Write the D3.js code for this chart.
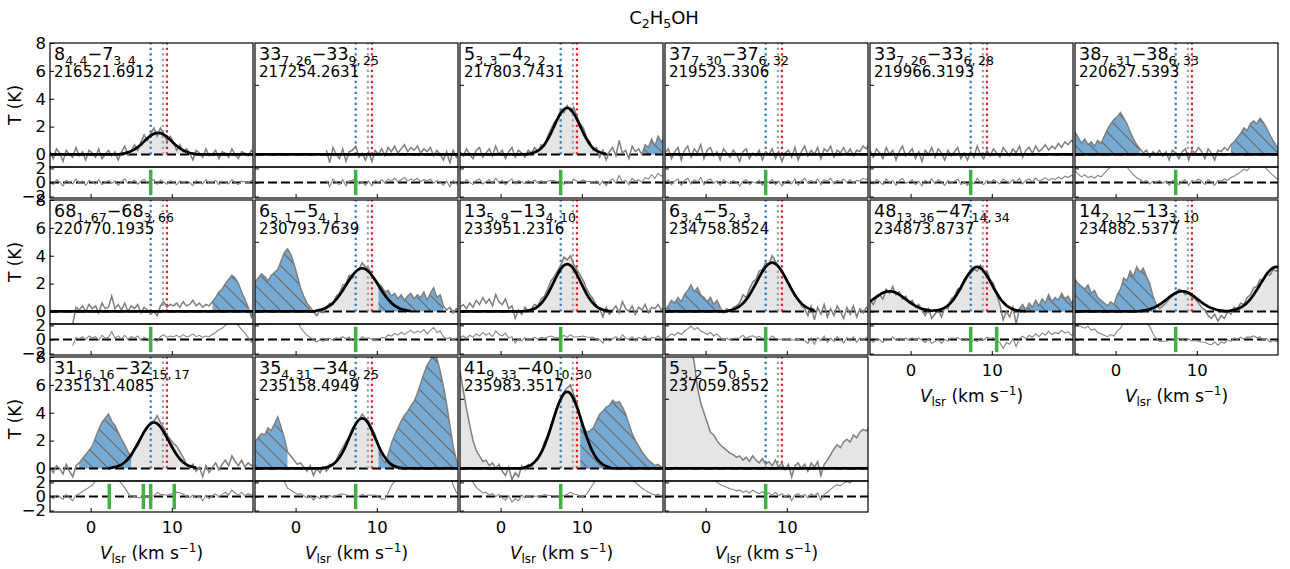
<!DOCTYPE html>
<meta charset="utf-8">
<style>
body { margin: 0; background: #fff; }
svg { font-family: "DejaVu Sans", sans-serif; }
</style>
<script src="https://cdn.jsdelivr.net/npm/d3@7"></script>
<body>
<svg id="chart" width="1290" height="569"></svg>
<script>

// channel axis of all spectra (km/s)
const vStart = -5, vStep = 0.4, nChan = 64;

// upper level, its subscript, lower level, its subscript
const transitions = [
  ["8","4,\u20094","7","3,\u20094"], ["33","7,\u200926","33","9,\u200925"], ["5","3,\u20093","4","2,\u20092"],
  ["37","7,\u200930","37","6,\u200932"], ["33","7,\u200926","33","6,\u200928"], ["38","7,\u200931","38","6,\u200933"],
  ["68","1,\u200967","68","3,\u200966"], ["6","5,\u20091","5","4,\u20091"], ["13","5,\u20099","13","4,\u200910"],
  ["6","3,\u20094","5","2,\u20093"], ["48","13,\u200936","47","14,\u200934"], ["14","2,\u200912","13","3,\u200910"],
  ["31","16,\u200916","32","15,\u200917"], ["35","4,\u200931","34","9,\u200925"], ["41","9,\u200933","40","10,\u200930"],
  ["5","3,\u20092","5","0,\u20095"]
];
const freqs = ["216521.6912","217254.2631","217803.7431","219523.3306","219966.3193","220627.5393",
  "220770.1935","230793.7639","233951.2316","234758.8524","234873.8737","234882.5377",
  "235131.4085","235158.4949","235983.3517","237059.8552"];

// first channel velocity of each spectrum
const specStart = [-5, 3.8, -5, -5, -5, -5, -2.2, -5, -5, -5, -5, -5, -5, -5, -5, -5];

// brightness temperature T (K), one value per channel
const spectra = [
  [0.2,-0.3,0.4,0.1,-0.5,0.3,0.0,-0.2, 0.5,-0.1,0.2,-0.4,0.3,0.1,-0.2,0.4, -0.3,0.0,0.3,-0.1,0.2,-0.4,0.15,0.6,
   -0.05,0.25,0.7,0.3,0.9,1.4,1.0,1.5, 1.9,1.3,1.9,1.5,1.0,1.3,0.9,0.3, 0.7,0.2,0.4,0.1,-0.4,0.3,0.1,-0.2,
   0.4,-0.1,0.0,0.3,-0.3,0.2,0.1,-0.2, 0.4,0.0,-0.3,0.2,0.1,-0.1,0.3,0.0],
  [0.3,-0.6,0.5,0.0,-0.3,0.4,-0.5,0.2, 0.3,0.6,-0.2,0.1,-0.4,0.2,-0.5,0.3, 0.0,0.4,-0.1,0.5,0.2,0.6,0.1,0.4,
   0.7,0.2,0.5,0.3,0.6,0.1,0.4,0.2, 0.5,-0.1,0.3,0.0,-0.4,0.2,-0.6,0.3, -0.2,0.4],
  [0.2,-0.1,0.4,0.0,-0.3,0.3,0.5,-0.2, 0.1,0.4,-0.1,0.6,0.0,0.3,-0.3,0.2, 0.5,-0.2,0.3,0.1,-0.2,0.3,0.1,0.5,
   0.2,0.7,0.6,1.3,1.8,2.3,2.6,3.2, 3.0,3.5,3.1,3.4,2.7,2.2,1.9,1.2, 0.9,0.3,0.5,-0.2,0.3,-0.4,0.2,0.5,
   -0.1,1.0,0.1,0.3,-0.3,0.6,0.2,0.4, 0.0,0.7,0.5,1.1,0.6,1.3,0.9,1.2],
  [0.1,0.4,-0.3,0.2,0.5,-0.4,0.3,0.6, -0.2,0.4,0.1,0.7,-0.3,0.3,0.5,-0.1, 0.2,-0.4,0.4,0.1,-0.2,0.3,0.0,-0.5,
   0.2,0.4,-0.3,0.1,-0.1,0.3,-0.4,0.2, 0.0,0.4,-0.3,0.2,-0.5,0.1,0.3,-0.2, 0.5,-0.4,0.2,0.6,-0.1,0.3,0.0,0.5,
   -0.3,0.4,0.2,0.6,-0.2,0.3,0.1,0.5, 0.0,0.4,-0.1,0.3,0.2,0.6,0.4,0.8],
  [0.3,-0.2,0.4,0.1,-0.3,0.5,0.0,0.3, -0.4,0.2,0.6,-0.1,0.1,0.4,-0.3,0.2, -0.5,0.3,0.0,0.5,-0.2,0.4,0.1,-0.4,
   0.3,-0.1,0.2,0.5,-0.3,0.1,-0.4,0.2, -0.2,0.6,0.0,-0.3,0.3,-0.1,0.4,0.1, -0.2,0.5,0.2,-0.1,0.4,0.1,0.6,-0.2,
   0.3,0.5,0.1,0.6,0.2,0.4,0.7,0.3, 0.6,0.4,0.8,0.5,0.9,0.7,1.0,0.8],
  [1.6,1.2,0.8,1.1,0.7,0.9,0.6,1.0, 0.8,1.3,1.8,2.2,2.5,2.7,3.0,2.6, 2.2,1.6,1.1,0.7,0.4,0.1,0.3,-0.2,
   0.2,0.0,0.3,-0.1,0.2,-0.4,0.3,0.1, -0.3,0.2,0.4,-0.4,0.3,0.1,0.5,0.2, -0.3,0.4,0.1,-0.4,0.3,0.2,0.5,0.3,
   0.7,0.9,1.2,1.5,1.9,1.7,2.2,2.4, 2.2,2.6,2.3,1.9,1.4,1.0,0.6,0.3],
  [-0.9,0.3,0.1,0.4,0.0,0.5,0.2,0.4, -0.1,0.6,0.2,0.3,1.1,0.2,0.5,0.1, 0.6,0.0,0.4,0.2,0.5,-0.1,0.3,0.1,
   -0.2,0.0,-0.3,0.4,0.7,0.3,0.5,0.4, 0.6,0.3,0.7,0.4,0.5,0.8,0.4,0.6, 0.3,0.5,0.4,0.7,1.0,1.4,1.6,2.0,
   2.3,2.6,2.4,2.0,1.4,0.9,0.3,-0.4, 0.2],
  [2.1,2.4,2.7,2.5,2.2,2.6,2.8,3.0, 3.6,4.2,4.5,4.1,3.4,2.6,1.7,1.1, 0.6,0.3,0.0,-0.3,0.1,-0.1,0.3,0.6,
   0.5,1.1,1.3,1.9,2.0,2.6,2.4,2.9, 3.0,3.5,3.2,3.1,2.6,2.3,2.0,1.8, 1.4,1.5,1.1,1.3,0.9,1.2,0.8,1.1,
   1.3,0.9,1.2,1.0,1.4,0.8,1.3,1.7, 1.0,1.2,0.4,0.1,0.3,-0.1,0.2,0.0],
  [0.3,0.5,0.2,0.6,0.3,0.8,0.5,1.0, 0.6,0.9,0.4,1.2,0.7,0.5,0.9,0.2, 0.4,-0.5,0.1,-0.2,0.3,0.0,0.2,0.5,
   0.4,0.9,1.1,1.6,2.2,2.5,2.9,3.3, 3.9,3.7,4.0,3.4,3.0,2.6,2.2,1.6, 1.2,0.9,0.4,0.2,-0.4,0.3,-0.2,0.1,
   0.4,-0.1,0.7,0.2,0.0,0.4,-0.2,0.3, 0.1,0.5,-0.1,0.3,0.2,0.5,0.1,0.3],
  [0.1,0.4,0.8,0.6,1.0,0.7,1.2,1.5, 1.9,1.4,1.7,1.2,1.0,0.7,1.0,0.5, 0.8,0.3,-0.1,0.2,0.0,0.3,0.4,0.6,
   1.2,1.0,1.6,2.1,2.3,2.9,3.0,3.5, 3.4,4.0,3.6,3.2,2.9,2.4,2.1,1.5, 1.1,0.9,0.4,0.2,-0.3,0.4,-0.6,0.3,
   -0.2,0.5,-0.4,0.2,-0.3,0.4,0.0,-0.5, 0.3,-0.2,0.4,-0.4,0.2,-0.1,0.3,0.0],
  [0.8,0.5,1.0,1.2,0.9,1.6,1.3,1.8, 1.2,1.4,0.9,1.1,0.6,0.8,0.3,0.5, 0.1,-0.3,0.2,-0.5,-0.2,0.1,-0.4,0.3,
   0.2,0.9,1.1,1.6,1.7,2.3,2.5,2.7, 3.0,2.9,3.3,2.8,2.9,2.3,2.0,1.2, 0.5,-0.6,0.0,-0.4,0.3,-0.9,0.2,0.5,
   0.1,0.6,0.3,0.8,0.4,0.9,0.6,1.2, 0.7,1.0,0.8,1.3,0.9,1.1,0.6,1.0],
  [2.3,2.0,1.8,1.6,1.9,1.3,1.5,1.0, 0.8,0.6,0.4,0.7,0.5,1.2,1.6,2.4, 2.2,2.9,2.5,3.2,2.8,3.1,2.5,2.0,
   1.1,0.5,0.2,0.4,0.6,0.9,1.1,1.3, 1.6,1.5,1.2,1.4,1.0,0.9,0.6,0.3, 0.1,-0.3,-0.5,-0.2,-0.7,-0.3,-0.5,0.0,
   -0.2,0.3,0.2,0.6,0.5,1.0,1.2,1.7, 1.8,2.3,2.2,2.8,2.6,3.0,2.9,3.1],
  [0.1,-0.3,0.2,0.0,-0.4,0.3,-0.2,-0.6, 0.2,0.4,0.7,1.0,1.3,1.6,2.2,2.8, 3.3,3.6,3.9,3.4,3.1,2.6,2.1,1.7,
   1.2,0.8,1.4,1.6,2.1,2.6,3.0,3.3, 3.4,3.8,3.3,2.9,2.4,2.1,1.8,1.6, 1.2,0.8,0.3,0.0,0.3,-0.2,0.1,-0.6,
   0.2,-0.3,0.1,0.4,-0.1,0.3,0.6,0.2, 0.9,0.5,0.2,0.6,0.1,0.4,0.2,0.3],
  [1.9,2.2,2.5,2.4,2.9,2.7,3.2,3.7, 3.0,2.2,1.2,0.9,0.6,0.3,0.4,0.1, -0.2,0.2,-0.5,0.0,-0.3,0.1,-0.2,0.3,
   0.2,0.6,1.1,1.5,1.9,2.3,2.9,3.2, 3.5,3.9,3.6,3.4,2.9,2.4,1.6,0.8, 0.4,1.0,1.8,2.4,2.9,3.4,3.8,4.1,
   4.5,4.8,5.4,6.1,6.8,7.4,7.8,8.2, 7.9,7.0,5.9,4.6,3.1,1.6,0.6,0.2],
  [7.0,5.6,4.3,3.1,2.0,1.3,0.9,0.5, 0.6,0.2,0.4,0.0,0.3,-0.2,-0.5,0.1, -0.8,-0.3,-0.6,0.2,-0.1,0.3,0.1,0.5,
   0.8,1.2,1.9,2.4,3.1,3.8,4.5,5.0, 5.5,5.8,6.0,5.3,4.7,3.6,3.0,2.6, 2.7,2.9,3.4,3.9,4.1,4.4,4.5,4.9,
   4.7,4.8,4.4,3.9,3.2,2.5,2.0,1.6, 1.2,0.9,0.6,0.4,0.2,0.3,0.1,-0.2],
  [12.0,12.5,12.0,11.5,11.0,10.5,10.0,9.4, 8.7,7.6,5.8,4.7,4.0,3.3,2.6,2.4, 2.0,1.7,1.5,1.3,1.1,1.0,0.8,0.9,
   0.6,0.8,0.5,0.9,0.6,0.4,0.7,0.3, 0.5,0.2,0.6,0.1,0.4,-0.1,0.3,-0.6, 0.2,0.4,0.0,0.3,-0.2,0.4,0.1,0.5,
   -0.5,0.3,0.6,1.0,1.4,1.7,1.5,1.9, 2.1,1.9,2.4,2.2,2.6,2.8,2.7,3.0]
];

// fitted model (K); channels outside the list are 0
const modelStart = [3.8, -5, 3.4, -5, -5, -5, -5, 2.6, 3.0, 3.0, -5, 3.0, 2.2, 3.4, 3.0, -5];
const models = [
  [0.05,0.08,0.15,0.24,0.36,0.53,0.72,0.94,1.16,1.35,1.48,1.55,1.53,1.42,1.26,1.05,0.83,0.62,0.44,0.29,0.19,0.11,0.06,0.03],
  [],
  [0.04,0.08,0.15,0.27,0.45,0.72,1.09,1.53,2.03,2.53,2.95,3.25,3.35,3.25,2.95,2.53,2.03,1.53,1.09,0.72,0.45,0.27,0.15,0.08,0.04],
  [], [], [], [],
  [0.06,0.11,0.17,0.28,0.42,0.61,0.86,1.16,1.51,1.88,2.25,2.59,2.86,3.04,3.1,3.04,2.86,2.59,2.25,1.88,1.51,1.16,0.86,0.61,0.42,0.28,0.17,0.11,0.06],
  [0.03,0.06,0.12,0.21,0.36,0.58,0.88,1.25,1.70,2.18,2.65,3.04,3.31,3.4,3.31,3.04,2.65,2.18,1.70,1.25,0.88,0.58,0.36,0.21,0.12,0.06,0.03],
  [0.08,0.14,0.24,0.38,0.58,0.85,1.18,1.58,2.01,2.46,2.87,3.20,3.42,3.5,3.42,3.20,2.87,2.46,2.01,1.58,1.18,0.85,0.58,0.38,0.24,0.14,0.08],
  [0.71,0.88,1.05,1.21,1.34,1.42,1.45,1.42,1.34,1.21,1.05,0.88,0.71,0.54,0.40,0.29,0.20,0.13,0.08,0.05,
   0.08,0.09,0.16,0.27,0.43,0.66,0.95,1.32,1.72,2.16,2.56,2.90,3.12,3.2,3.12,2.90,2.56,2.16,1.72,1.32,0.95,0.66,0.43,0.27,0.16,0.09,0.05,0.02],
  [0.03,0.06,0.10,0.16,0.24,0.35,0.49,0.65,0.83,1.02,1.19,1.33,1.42,1.45,1.42,1.33,1.19,1.02,0.83,0.65,0.49,0.35,0.24,0.16,0.10,0.06,0.03,
   0.02,0.06,0.11,0.18,0.28,0.43,0.63,0.89,1.20,1.56,1.94,2.32,2.67,2.95,3.14,3.2,3.14],
  [0.02,0.05,0.10,0.17,0.28,0.45,0.68,0.98,1.36,1.78,2.22,2.64,2.99,3.22,3.3,3.22,2.99,2.64,2.22,1.78,1.36,0.98,0.68,0.45,0.28,0.17,0.10,0.05],
  [0.04,0.08,0.16,0.29,0.49,0.78,1.17,1.65,2.19,2.72,3.18,3.49,3.6,3.49,3.18,2.72,2.19,1.65,1.17,0.78,0.49,0.29,0.16,0.08,0.04],
  [0.08,0.16,0.28,0.47,0.74,1.13,1.64,2.26,2.96,3.71,4.41,4.98,5.37,5.5,5.37,4.98,4.41,3.71,2.96,2.26,1.64,1.13,0.74,0.47,0.28,0.16,0.08],
  []
];
// velocity span over which the model curve is drawn
const modelSpan = [[-5,20.2],[-5,20.2],[-5,13.0],[-5,20.2],[-5,20.2],[-5,20.2],[-5,20.2],[-5,14.2],
  [-5,13.8],[-5,13.4],[-5,14.2],[-5,20.2],[2.2,13.0],[-5,20.2],[-5,20.2],[-5,20.2]];

// shaded velocity ranges: g = this line / other emission, b = blended (hatched)
const fills = [
  [[4.2,12.2,"g"]], [], [[3.8,12.6,"g"],[17.4,20.2,"b"]], [], [],
  [[-5,3.0,"b"],[14.2,20.2,"b"]],
  [[15.0,19.8,"b"]],
  [[-5,1.8,"b"],[3.4,10.2,"g"],[10.2,18.2,"b"]],
  [[4.2,12.6,"g"]],
  [[-5,1.8,"b"],[3.4,13.0,"g"]],
  [[-5,2.2,"g"],[4.2,11.0,"g"],[13.4,20.2,"b"]],
  [[-5,5.0,"b"],[5.4,11.0,"g"],[14.6,20.2,"g"]],
  [[-1.4,5.0,"b"],[5.0,12.2,"g"]],
  [[-5,-1.0,"b"],[4.2,10.2,"g"],[10.2,20.2,"b"]],
  [[-5,-1.0,"g"],[3.8,9.8,"g"],[9.8,20.2,"b"]],
  [[-5,20.2,"g"]]
];

// green markers in the residual boxes (km/s)
const greenMarks = [[7.4],[7.4],[7.4],[7.4],[7.4],[7.4],[7.4],[7.4],[7.4],[7.4],[7.4,10.6],[7.4],
  [2.3,6.5,7.4,10.3],[7.4],[7.4],[7.4]];

const refVel = [7.4, 8.9, 9.4];
const refColor = ["#2b7bba", "#a0a0a0", "#ee1c1c"];

// layout
const colX = [50, 255, 460, 665, 870, 1075];
const rowY = [43, 200, 357];
const panelW = 203, mainH = 124, resH = 31;
const xDomain = [-5, 20];

const svg = d3.select("#chart");
const defs = svg.append("defs");

defs.append("pattern")
  .attr("id", "hatch")
  .attr("patternUnits", "userSpaceOnUse")
  .attr("width", 15).attr("height", 15)
  .append("path")
  .attr("d", "M0,0L15,15M-2,13L2,17M13,-2L17,2")
  .attr("stroke", "#666").attr("stroke-width", 1.2);

// title
const title = svg.append("text").attr("x", 664).attr("y", 24)
  .attr("text-anchor", "middle").attr("font-size", 18);
title.append("tspan").text("C");
title.append("tspan").attr("font-size", 12.5).attr("dy", 4).text("2");
title.append("tspan").attr("dy", -4).text("H");
title.append("tspan").attr("font-size", 12.5).attr("dy", 4).text("5");
title.append("tspan").attr("dy", -4).text("OH");

function modelAt(k, v) {
  const m = models[k];
  const j = Math.round((v - modelStart[k]) / vStep);
  return (j >= 0 && j < m.length) ? m[j] : 0;
}

function styleAxis(g) {
  g.select(".domain").remove();
  g.selectAll("line").attr("stroke", "#000").attr("stroke-width", 1);
  g.selectAll("text").attr("font-family", "DejaVu Sans").attr("font-size", 16.5).attr("fill", "#000");
}

transitions.forEach((tr, k) => {
  const col = k % 6, row = Math.floor(k / 6);
  const x0 = colX[col], y0 = rowY[row];
  const mainBot = y0 + mainH, resBot = mainBot + resH;

  const xS = d3.scaleLinear().domain(xDomain).range([x0, x0 + panelW]);
  const yS = d3.scaleLinear().domain([-0.9, 8]).range([mainBot, y0]);
  const rS = d3.scaleLinear().domain([-2.2, 2.2]).range([resBot, mainBot]);

  defs.append("clipPath").attr("id", "cm" + k)
    .append("rect").attr("x", x0).attr("y", y0).attr("width", panelW).attr("height", mainH);
  defs.append("clipPath").attr("id", "cr" + k)
    .append("rect").attr("x", x0).attr("y", mainBot).attr("width", panelW).attr("height", resH);

  const i0 = Math.round((specStart[k] - vStart) / vStep);
  const pts = spectra[k].map((t, j) => {
    const v = vStart + (i0 + j) * vStep;
    return { v: v, t: t, r: t - modelAt(k, v) };
  });

  const gm = svg.append("g").attr("clip-path", `url(#cm${k})`);

  // shaded areas
  const area = d3.area().x(d => xS(d.v)).y0(yS(0)).y1(d => yS(d.t));
  fills[k].forEach(([a, b, kind]) => {
    const seg = pts.filter(d => d.v >= a - 1e-6 && d.v <= b + 1e-6);
    gm.append("path").datum(seg).attr("d", area)
      .attr("fill", kind === "b" ? "#77aad3" : "#e5e5e5");
    if (kind === "b") {
      gm.append("path").datum(seg).attr("d", area).attr("fill", "url(#hatch)");
    }
  });

  // zero level
  gm.append("line").attr("x1", x0).attr("x2", x0 + panelW)
    .attr("y1", yS(0)).attr("y2", yS(0))
    .attr("stroke", "#000").attr("stroke-width", 2).attr("stroke-dasharray", "9,4");

  // labels
  const lab = svg.append("text").attr("x", x0 + 4).attr("y", y0 + 17).attr("font-size", 17.5);
  lab.append("tspan").text(tr[0]);
  lab.append("tspan").attr("font-size", 12.5).attr("dy", 4.5).text(tr[1]);
  lab.append("tspan").attr("dy", -4.5).text("\u2212" + tr[2]);
  lab.append("tspan").attr("font-size", 12.5).attr("dy", 4.5).text(tr[3]);
  svg.append("text").attr("x", x0 + 4).attr("y", y0 + 34).attr("font-size", 15).text(freqs[k]);

  // reference velocities
  refVel.forEach((rv, j) => {
    gm.append("line").attr("x1", xS(rv)).attr("x2", xS(rv))
      .attr("y1", yS(0)).attr("y2", yS(8))
      .attr("stroke", refColor[j]).attr("stroke-width", 2.2).attr("stroke-dasharray", "2.2,3.3");
  });

  // spectrum
  const line = d3.line().defined(d => d.t != null).x(d => xS(d.v)).y(d => yS(d.t));
  gm.append("path").datum(pts).attr("d", line)
    .attr("fill", "none").attr("stroke", "#7f7f7f").attr("stroke-width", 1.5);

  // model
  const mpts = d3.range(nChan).map(i => vStart + i * vStep)
    .filter(v => v >= modelSpan[k][0] - 1e-6 && v <= modelSpan[k][1] + 1e-6)
    .map(v => ({ v: v, m: modelAt(k, v) }));
  gm.append("path").datum(mpts)
    .attr("d", d3.line().x(d => xS(d.v)).y(d => yS(d.m)).curve(d3.curveMonotoneX))
    .attr("fill", "none").attr("stroke", "#000").attr("stroke-width", 2.7);

  // residual
  const gr = svg.append("g").attr("clip-path", `url(#cr${k})`);
  gr.append("line").attr("x1", x0).attr("x2", x0 + panelW)
    .attr("y1", rS(0)).attr("y2", rS(0))
    .attr("stroke", "#000").attr("stroke-width", 2).attr("stroke-dasharray", "9,4");
  gr.append("path").datum(pts)
    .attr("d", d3.line().defined(d => d.t != null).x(d => xS(d.v)).y(d => rS(d.r)))
    .attr("fill", "none").attr("stroke", "#858585").attr("stroke-width", 1.1);
  gr.selectAll("rect.mark").data(greenMarks[k]).enter().append("rect")
    .attr("x", d => xS(d) - 1.75).attr("width", 3.5)
    .attr("y", rS(1.8)).attr("height", rS(-1.8) - rS(1.8))
    .attr("fill", "#44b044");

  // axes
  const first = col === 0;
  svg.append("g").attr("transform", `translate(${x0},0)`)
    .call(d3.axisLeft(yS).tickValues(first ? [0, 2, 4, 6, 8] : [0, 5]).tickSize(-4).tickPadding(4)
      .tickFormat(first ? d3.format("d") : () => ""))
    .call(styleAxis);
  svg.append("g").attr("transform", `translate(${x0},0)`)
    .call(d3.axisLeft(rS).tickValues([-2, 0, 2]).tickSize(-4).tickPadding(4)
      .tickFormat(first ? (d => d < 0 ? "\u2212" + Math.abs(d) : d) : () => ""))
    .call(styleAxis);

  const bottom = k + 6 >= transitions.length;
  svg.append("g").attr("transform", `translate(0,${resBot})`)
    .call(d3.axisBottom(xS).tickValues([0, 10]).tickSize(-4).tickPadding(9)
      .tickFormat(bottom ? d3.format("d") : () => ""))
    .call(styleAxis);

  if (bottom) {
    const xl = svg.append("text").attr("x", x0 + panelW / 2).attr("y", resBot + 47)
      .attr("text-anchor", "middle").attr("font-size", 17);
    xl.append("tspan").attr("font-style", "italic").text("V");
    xl.append("tspan").attr("font-size", 12).attr("dy", 4).text("lsr");
    xl.append("tspan").attr("dy", -4).text(" (km s");
    xl.append("tspan").attr("font-size", 12).attr("dy", -7).text("\u22121");
    xl.append("tspan").attr("dy", 7).text(")");
  }
  if (first) {
    svg.append("text")
      .attr("transform", `translate(15,${y0 + mainH / 2}) rotate(-90)`)
      .attr("text-anchor", "middle").attr("dy", "0.35em").attr("font-size", 17)
      .text("T (K)");
  }

  // frames
  svg.append("rect").attr("x", x0).attr("y", y0).attr("width", panelW).attr("height", mainH)
    .attr("fill", "none").attr("stroke", "#000").attr("stroke-width", 1.2);
  svg.append("rect").attr("x", x0).attr("y", mainBot).attr("width", panelW).attr("height", resH)
    .attr("fill", "none").attr("stroke", "#000").attr("stroke-width", 1.2);
});

</script>
</body>
